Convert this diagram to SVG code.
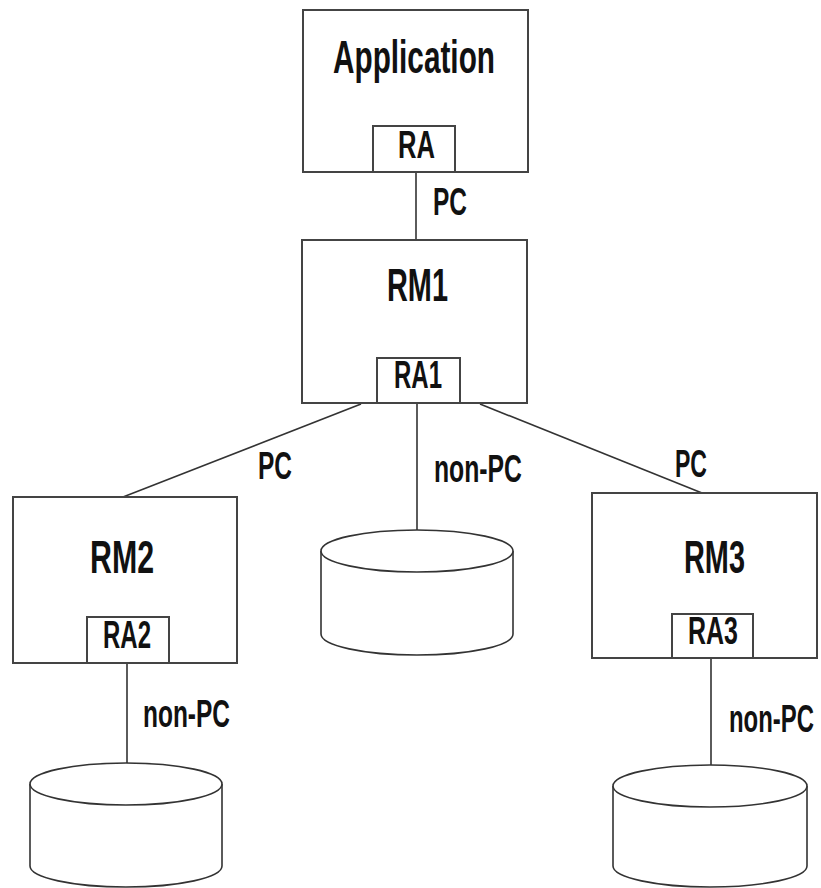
<svg xmlns="http://www.w3.org/2000/svg" width="821" height="888" viewBox="0 0 821 888">
<style>
.box{fill:#fff;stroke:#444;stroke-width:2}
.ln{fill:none;stroke:#333;stroke-width:1.6}
.cyl{fill:#fff;stroke:#333;stroke-width:1.6}
text{font-family:"Liberation Sans Narrow","Liberation Sans",Arial,sans-serif;font-weight:bold;fill:#111}
.t{font-size:46px}
.s{font-size:38px}
</style>
<rect width="821" height="888" fill="#fff"/>
<g id="connectors">
<line class="ln" x1="416" y1="172" x2="416" y2="240"/>
<line class="ln" x1="361" y1="404" x2="123" y2="497"/>
<line class="ln" x1="417" y1="404" x2="417" y2="530"/>
<line class="ln" x1="480" y1="404" x2="702" y2="493"/>
<line class="ln" x1="127" y1="663" x2="127" y2="763"/>
<line class="ln" x1="711" y1="658" x2="711" y2="765"/>
<text class="s" x="433" y="215" textLength="34" lengthAdjust="spacingAndGlyphs">PC</text>
<text class="s" x="258" y="479" textLength="34" lengthAdjust="spacingAndGlyphs">PC</text>
<text class="s" x="675" y="477" textLength="32" lengthAdjust="spacingAndGlyphs">PC</text>
<text class="s" x="434" y="482" textLength="88" lengthAdjust="spacingAndGlyphs">non-PC</text>
<text class="s" x="143" y="727" textLength="87" lengthAdjust="spacingAndGlyphs">non-PC</text>
<text class="s" x="729" y="732" textLength="85" lengthAdjust="spacingAndGlyphs">non-PC</text>
</g>
<g id="application">
<rect class="box" x="303" y="10" width="225" height="162"/>
<text class="t" x="333" y="73" textLength="162" lengthAdjust="spacingAndGlyphs">Application</text>
<rect class="box" x="373" y="126" width="82" height="46"/>
<text class="s" x="398" y="158" textLength="37" lengthAdjust="spacingAndGlyphs">RA</text>
</g>
<g id="rm1">
<rect class="box" x="302" y="240" width="225" height="163"/>
<text class="t" x="387" y="301" textLength="61" lengthAdjust="spacingAndGlyphs">RM1</text>
<rect class="box" x="377" y="358" width="83" height="45"/>
<text class="s" x="394" y="388" textLength="48" lengthAdjust="spacingAndGlyphs">RA1</text>
</g>
<g id="rm2">
<rect class="box" x="13" y="497" width="224" height="166"/>
<text class="t" x="90" y="573" textLength="64" lengthAdjust="spacingAndGlyphs">RM2</text>
<rect class="box" x="87" y="617" width="82" height="46"/>
<text class="s" x="103" y="648" textLength="48" lengthAdjust="spacingAndGlyphs">RA2</text>
</g>
<g id="rm3">
<rect class="box" x="592" y="493" width="225" height="165"/>
<text class="t" x="684" y="573" textLength="61" lengthAdjust="spacingAndGlyphs">RM3</text>
<rect class="box" x="672" y="614" width="81" height="44"/>
<text class="s" x="688" y="644" textLength="50" lengthAdjust="spacingAndGlyphs">RA3</text>
</g>
<g id="db-mid">
<path class="cyl" d="M321,551 L321,634 A96,21 0 0 0 513,634 L513,551"/>
<ellipse class="cyl" cx="417" cy="551" rx="96" ry="21"/>
</g>
<g id="db-left">
<path class="cyl" d="M30,784 L30,866 A96,21 0 0 0 222,866 L222,784"/>
<ellipse class="cyl" cx="126" cy="784" rx="96" ry="21"/>
</g>
<g id="db-right">
<path class="cyl" d="M613,786 L613,866 A97,21 0 0 0 807,866 L807,786"/>
<ellipse class="cyl" cx="710" cy="786" rx="97" ry="21"/>
</g>
</svg>
